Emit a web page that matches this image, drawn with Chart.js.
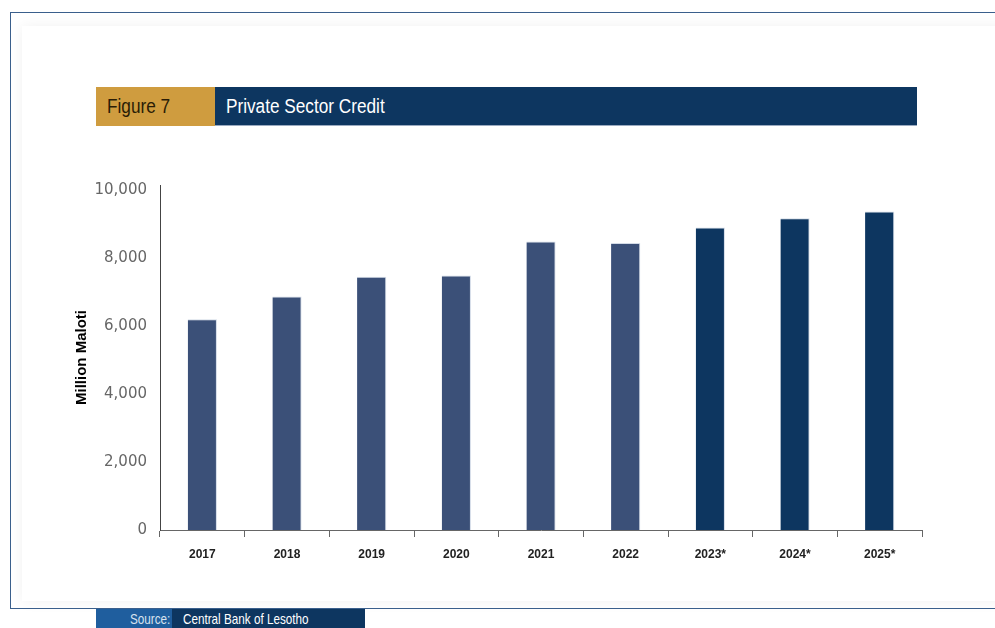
<!DOCTYPE html>
<html>
<head>
<meta charset="utf-8">
<script src="https://cdn.jsdelivr.net/npm/chart.js@4/dist/chart.umd.min.js"></script>
<style>
  html, body { margin: 0; padding: 0; background: #fff; }
  body { width: 995px; height: 628px; position: relative; overflow: hidden; }
  .frame { position: absolute; left: 10px; top: 12px; width: 1000px; height: 595px;
           border: 1px solid #3a5f8c; border-right: none; }
  .shade { position: absolute; left: 22px; top: 26px; width: 990px; height: 575px;
           box-shadow: 0 0 14px rgba(0,0,0,0.06); background: #fff; }
  .cond { font-family: 'Liberation Sans', Arial, sans-serif; white-space: nowrap; }
  .cond span { display: inline-block; transform: scaleX(0.78); transform-origin: left center; }
  .fig span, .ttl span { transform: scaleX(0.86); }
  .fig { position: absolute; left: 96px; top: 87px; width: 119px; height: 39px; background: #cf9c3f;
         color: #2a1c06; font-size: 20px; line-height: 39px; padding-left: 11px; box-sizing: border-box; }
  .ttl { position: absolute; left: 215px; top: 87px; width: 702px; height: 39px; background: #0d3660;
         color: #fff; font-size: 20px; line-height: 39px; padding-left: 11px; box-sizing: border-box;
         border-bottom: 1px solid #9aaac0; }
  .src1 { position: absolute; left: 96px; top: 609px; width: 76px; height: 19px; background: #1f5e9e;
          color: #d8e2ee; font-size: 15px; line-height: 19px; padding-left: 34px; box-sizing: border-box; }
  .src2 { position: absolute; left: 172px; top: 609px; width: 193px; height: 19px; background: #0d3660;
          color: #fff; font-size: 15px; line-height: 19px; padding-left: 11px; box-sizing: border-box; }
  canvas { position: absolute; left: 0; top: 0; }
</style>
</head>
<body>
<div class="shade"></div>
<div class="frame"></div>
<div class="fig cond"><span>Figure 7</span></div>
<div class="ttl cond"><span>Private Sector Credit</span></div>
<div class="src1 cond"><span>Source:</span></div>
<div class="src2 cond"><span>Central Bank of Lesotho</span></div>
<canvas id="c" width="995" height="628"></canvas>
<script>
const years = ['2017', '2018', '2019', '2020', '2021', '2022', '2023*', '2024*', '2025*'];
const credit = [6200, 6870, 7450, 7490, 8490, 8440, 8900, 9170, 9370];
const barColors = ['#3b5078', '#3b5078', '#3b5078', '#3b5078', '#3b5078', '#3b5078', '#0d3660', '#0d3660', '#0d3660'];
const yTicks = [0, 2000, 4000, 6000, 8000, 10000];

new Chart(document.getElementById('c'), {
  type: 'bar',
  data: {
    labels: years,
    datasets: [{
      data: credit,
      backgroundColor: barColors,
      borderColor: 'rgba(200,210,225,0.8)',
      borderWidth: { top: 1, right: 1, left: 0, bottom: 0 },
      barPercentage: 0.69,
      categoryPercentage: 0.5
    }]
  },
  options: {
    responsive: false,
    animation: false,
    layout: { padding: { left: 73, right: 73, top: 185, bottom: 38 } },
    plugins: { legend: { display: false }, tooltip: { enabled: false } },
    scales: {
      x: {
        offset: true,
        afterFit: s => { s.height = 60; },
        grid: { display: true, drawOnChartArea: false, offset: true, tickLength: 7, color: '#666' },
        border: { display: true, color: '#666', width: 1 },
        ticks: { color: '#222', padding: 10,
                 font: { family: "'Liberation Sans', Arial, sans-serif", size: 12, weight: 'bold' } }
      },
      y: {
        min: 0,
        max: 10150,
        afterFit: s => { s.width = 87; },
        afterBuildTicks: s => { s.ticks = yTicks.map(v => ({ value: v })); },
        grid: { display: false, drawTicks: false },
        border: { display: true, color: '#444', width: 1 },
        ticks: { color: '#666', padding: 13,
                 font: { family: "'DejaVu Sans', Verdana, sans-serif", size: 15 },
                 callback: v => v.toLocaleString('en-US') },
        title: { display: true, text: 'Million Maloti', color: '#000', padding: { top: 0, bottom: 0 },
                 font: { family: "'Liberation Sans', Arial, sans-serif", size: 15, weight: 'bold' } }
      }
    }
  }
});
</script>
</body>
</html>
